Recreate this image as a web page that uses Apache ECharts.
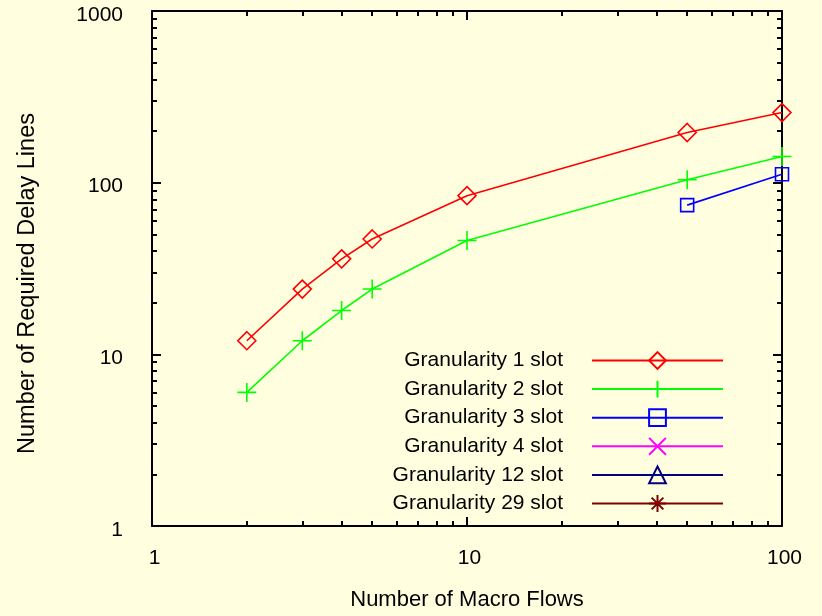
<!DOCTYPE html>
<html>
<head>
<meta charset="utf-8">
<script src="https://cdn.jsdelivr.net/npm/echarts@6/dist/echarts.min.js"></script>
<style>
html,body{margin:0;padding:0;background:#FFFFE0;}
#main{width:822px;height:616px;}
</style>
</head>
<body>
<div id="main"></div>
<script>
// ---- data ----
const seriesNames = ['Granularity 1 slot','Granularity 2 slot','Granularity 3 slot','Granularity 4 slot','Granularity 12 slot','Granularity 29 slot'];
const xGran1 = [2, 3, 4, 5, 10, 50, 100];
const yGran1 = [12, 24, 36, 47, 84, 196, 256];
const xGran2 = [2, 3, 4, 5, 10, 50, 100];
const yGran2 = [6, 12, 18, 24, 46, 104, 142];
const xGran3 = [50, 100];
const yGran3 = [74, 112];
const xGran4 = [];
const yGran4 = [];
const xGran12 = [];
const yGran12 = [];
const xGran29 = [];
const yGran29 = [];
const xMajorTicks = [1, 10, 100];
const xMinorTicks = [2,3,4,5,6,7,8,9,20,30,40,50,60,70,80,90];
const yMajorTicks = [1, 10, 100, 1000];
const yMinorTicks = [2,3,4,5,6,7,8,9,20,30,40,50,60,70,80,90,200,300,400,500,600,700,800,900];

const FONT = "'Liberation Sans', Arial, sans-serif";
const pair = (xs, ys) => xs.map((x, i) => [x, ys[i]]);

function mkAxis(kind, pos, major, showLine, showLabel, extra) {
  const isX = kind === 'x';
  const a = {
    type: 'log', logBase: 10, position: pos,
    min: 1, max: isX ? 100 : 1000,
    axisLine: { show: showLine, onZero: false, lineStyle: { color: '#000', width: 2 } },
    axisTick: { show: true, inside: true, length: major ? 9 : 5,
      customValues: major ? (isX ? xMajorTicks : yMajorTicks) : (isX ? xMinorTicks : yMinorTicks),
      lineStyle: { color: '#000', width: 2 } },
    axisLabel: { show: showLabel, color: '#000', fontFamily: FONT, fontSize: 21,
      formatter: v => String(Math.round(v)) },
    splitLine: { show: false }, minorTick: { show: false }
  };
  if (showLabel) a.axisLabel.customValues = isX ? xMajorTicks : yMajorTicks;
  return Object.assign(a, extra || {});
}

const xAxes = [
  mkAxis('x', 'bottom', true, true, true, {
    name: 'Number of Macro Flows', nameLocation: 'middle', nameGap: 63,
    nameTextStyle: { color: '#000', fontFamily: FONT, fontSize: 22 }
  }),
  mkAxis('x', 'bottom', false, false, false),
  mkAxis('x', 'top', true, true, false),
  mkAxis('x', 'top', false, false, false)
];
xAxes[0].axisLabel.margin = 22;
xAxes[0].axisLabel.padding = [0, 0, 0, 5];
const yAxes = [
  mkAxis('y', 'left', true, true, true, {
    name: 'Number of Required Delay Lines', nameLocation: 'middle', nameGap: 112,
    nameTextStyle: { color: '#000', fontFamily: FONT, fontSize: 23.5, padding: [0, 30, 0, 0] }
  }),
  mkAxis('y', 'left', false, false, false),
  mkAxis('y', 'right', true, true, false),
  mkAxis('y', 'right', false, false, false)
];
yAxes[0].axisLabel.margin = 29;
yAxes[0].axisLabel.verticalAlign = 'top';
yAxes[0].axisLabel.lineHeight = 8;

function mkSeries(name, data, color, symbol, size) {
  return {
    name: name, type: 'line', data: data,
    symbol: symbol, symbolSize: size,
    lineStyle: { color: color, width: 1.6 },
    itemStyle: { color: 'rgba(0,0,0,0)', borderColor: color, borderWidth: 1.6 },
    emphasis: { disabled: true },
    animation: false, z: 3
  };
}
const PLUS = 'path://M0,5L10,5M5,0L5,10';
const CROSS = 'path://M0,0L10,10M0,10L10,0';
const STAR = 'path://M0,5L10,5M5,0L5,10M1.5,1.5L8.5,8.5M1.5,8.5L8.5,1.5';

const option = {
  backgroundColor: '#FFFFE0',
  animation: false,
  grid: { left: 152, right: 40, top: 11, bottom: 90, containLabel: false },
  xAxis: xAxes,
  yAxis: yAxes,
  legend: {
    orient: 'vertical', right: 98, top: 350, padding: 0,
    align: 'right', itemWidth: 131, itemHeight: 21, itemGap: 7.6,
    textStyle: { color: '#000', fontFamily: FONT, fontSize: 21, lineHeight: 21, padding: [0, 24, 0, 0] },
    data: seriesNames,
    selectedMode: false
  },
  series: [
    mkSeries(seriesNames[0], pair(xGran1, yGran1), '#FF0000', 'diamond', 18),
    mkSeries(seriesNames[1], pair(xGran2, yGran2), '#00FF00', PLUS, 19),
    mkSeries(seriesNames[2], pair(xGran3, yGran3), '#0000FF', 'rect', 13),
    mkSeries(seriesNames[3], pair(xGran4, yGran4), '#FF00FF', CROSS, 14),
    mkSeries(seriesNames[4], pair(xGran12, yGran12), '#000080', 'triangle', 18),
    mkSeries(seriesNames[5], pair(xGran29, yGran29), '#800000', STAR, 17)
  ]
};
const chart = echarts.init(document.getElementById('main'), null, { renderer: 'canvas' });
chart.setOption(option);
</script>
</body>
</html>
